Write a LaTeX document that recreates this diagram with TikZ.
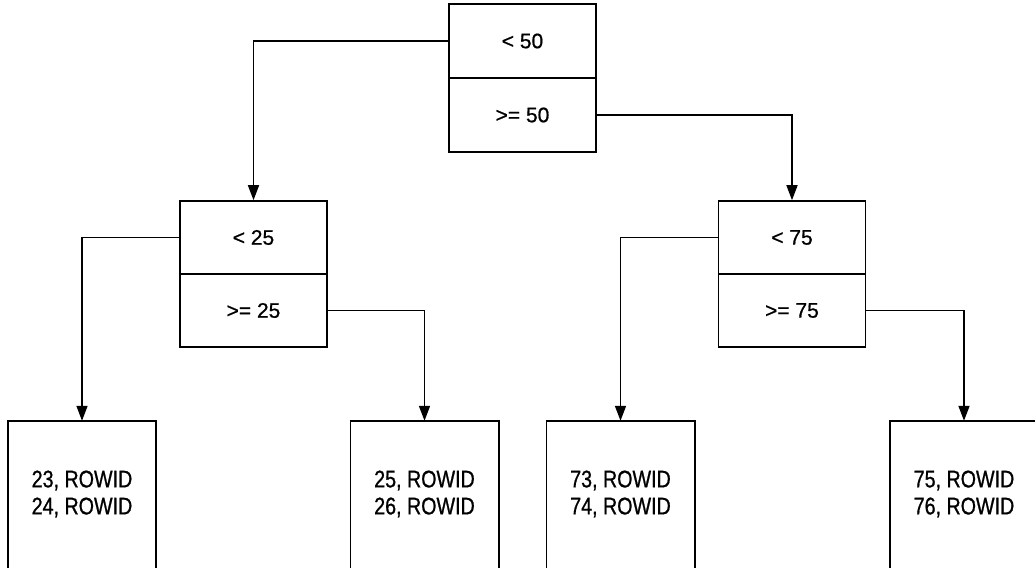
\documentclass[tikz,border=0pt]{standalone}
\usepackage{fontspec}
\setmainfont{Liberation Sans}
\newfontfamily\boxfont[FakeBold=0.8]{Liberation Sans}
\newfontfamily\leaffont[FakeStretch=0.82,FakeBold=0.8]{Liberation Sans}
\usetikzlibrary{arrows.meta}
\begin{document}
\begin{tikzpicture}[x=1pt,y=-1pt,
  half/.style={draw,line width=1.6pt,minimum width=147pt,minimum height=#1,inner sep=0pt,
    font=\boxfont\fontsize{21}{24}\selectfont},
  leafbox/.style={minimum width=148pt,minimum height=146pt,inner sep=0pt,align=center,
    font=\leaffont\fontsize{24}{27}\selectfont},
  edge/.style={line width=1.6pt},
  conn/.style={line width=1.6pt,-{Triangle[length=15pt,width=11pt]}}]
\useasboundingbox (0,0) rectangle (1035,567);
% root
\node[half=74pt] (a1) at (522.5,41) {< 50};
\node[half=74pt] (a2) at (522.5,115) {>= 50};
% level 2
\node[half=73pt] (b1) at (253.5,237.5) {< 25};
\node[half=73pt] (b2) at (253.5,310.5) {>= 25};
\node[half=73pt] (c1) at (792,237.5) {< 75};
\node[half=73pt] (c2) at (792,310.5) {>= 75};
% leaves
\node[leafbox] (l1) at (82,494) {23, ROWID\\24, ROWID};
\node[leafbox] (l2) at (424.5,494) {25, ROWID\\26, ROWID};
\node[leafbox] (l3) at (620.5,494) {73, ROWID\\74, ROWID};
\node[leafbox] (l4) at (964,494) {75, ROWID\\76, ROWID};
\foreach \l in {l1,l2,l3,l4}{
  \draw[edge] ([yshift=-6pt]\l.south west) -- (\l.north west) -- (\l.north east) -- ([yshift=-6pt]\l.south east);
}
% connectors
\draw[conn] (a1.west) -| (b1.north);
\draw[conn] (a2.east) -| (c1.north);
\draw[conn] (b1.west) -| (l1.north);
\draw[conn] (b2.east) -| (l2.north);
\draw[conn] (c1.west) -| (l3.north);
\draw[conn] (c2.east) -| (l4.north);
\end{tikzpicture}
\end{document}
